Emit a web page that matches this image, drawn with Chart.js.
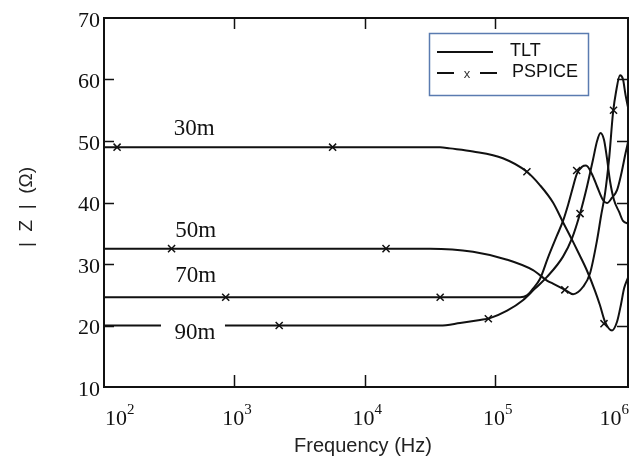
<!DOCTYPE html>
<html>
<head>
<meta charset="utf-8">
<script src="https://cdn.jsdelivr.net/npm/chart.js@4.4.1/dist/chart.umd.min.js"></script>
<style>
  html, body { margin: 0; padding: 0; background: #fff; }
  #wrap { width: 644px; height: 461px; }
</style>
</head>
<body>
<div id="wrap"><canvas id="zChart" width="644" height="461"></canvas></div>
<script>
// TLT curves (frequency in Hz, |Z| in ohm)
const freq30 = [100, 3.79e4, 4.52e4, 6.79e4, 1.15e5, 1.76e5, 2.22e5, 2.79e5, 3.33e5, 3.98e5, 4.5e5, 5.09e5, 5.87e5, 6.4e5, 7.0e5, 7.92e5, 8.65e5, 9.29e5, 9.79e5, 1.05e6];
const z30    = [49.0, 49.0, 48.8, 48.3, 47.2, 45.0, 42.8, 40.0, 36.8, 33.6, 31.3, 28.9, 25.6, 23.3, 20.6, 19.2, 20.6, 23.5, 26.0, 27.8];

const freq50 = [100, 3.18e4, 6.79e4, 1.24e5, 1.96e5, 2.51e5, 2.79e5, 3.45e5, 3.98e5, 4.75e5, 5.37e5, 6.08e5, 6.52e5, 7.0e5, 7.51e5, 8.06e5, 8.5e5, 9.12e5, 9.62e5, 1.005e6, 1.05e6];
const z50    = [32.5, 32.5, 32.0, 30.7, 29.0, 27.3, 26.8, 25.8, 25.1, 26.3, 28.5, 33.9, 37.8, 41.5, 47.0, 54.6, 58.0, 60.7, 60.0, 57.5, 55.5];

const freq70 = [100, 1.56e5, 1.76e5, 1.96e5, 2.22e5, 2.55e5, 2.99e5, 3.33e5, 3.64e5, 3.91e5, 4.26e5, 4.66e5, 5.0e5, 5.56e5, 6.08e5, 6.75e5, 7.24e5, 7.92e5, 8.65e5, 9.29e5, 1.005e6, 1.05e6];
const z70    = [24.6, 24.6, 24.9, 26.0, 27.6, 31.0, 34.6, 37.0, 39.6, 42.0, 44.7, 45.8, 46.0, 44.6, 42.6, 40.4, 39.9, 40.8, 42.0, 44.5, 48.0, 49.8];

const freq90 = [100, 3.79e4, 5.4e4, 7.69e4, 9.17e4, 1.24e5, 1.64e5, 2.03e5, 2.51e5, 3.33e5, 3.91e5, 4.5e5, 5.09e5, 5.66e5, 6.08e5, 6.46e5, 6.87e5, 7.24e5, 7.64e5, 8.2e5, 8.96e5, 9.62e5, 1.05e6];
const z90    = [20.0, 20.0, 20.4, 20.9, 21.2, 22.4, 24.1, 26.0, 27.9, 31.2, 34.2, 38.2, 42.6, 47.0, 50.0, 51.3, 50.2, 47.2, 43.5, 40.4, 38.5, 37.0, 36.6];

// PSPICE marker points
const pFreq30 = [126, 5.68e3, 1.76e5, 6.87e5];
const pZ30    = [49.0, 49.0, 45.0, 20.3];
const pFreq50 = [330, 1.46e4, 3.44e5, 8.13e5];
const pZ50    = [32.5, 32.5, 25.8, 55.0];
const pFreq70 = [859, 3.8e4, 4.24e5];
const pZ70    = [24.6, 24.6, 45.2];
const pFreq90 = [2.21e3, 8.9e4, 4.5e5];
const pZ90    = [20.0, 21.1, 38.2];

// curve names and where they sit
const curveNames = ['30m', '50m', '70m', '90m'];
const nameFreq   = [492, 506, 506, 499];
const nameZ      = [51.95, 35.4, 28.0, 18.85];

const xDecades = [1e2, 1e3, 1e4, 1e5, 1e6];
const yTicks   = [10, 20, 30, 40, 50, 60, 70];

function pts(fs, zs) {
  return fs.map((f, i) => ({ x: f, y: zs[i] }));
}

function tltLine(fs, zs) {
  return {
    data: pts(fs, zs),
    borderColor: '#111',
    borderWidth: 2,
    pointRadius: 0,
    fill: false,
    cubicInterpolationMode: 'monotone'
  };
}

function spiceMarks(fs, zs) {
  return {
    data: pts(fs, zs),
    showLine: false,
    pointStyle: 'crossRot',
    pointRadius: 5,
    pointBorderWidth: 1.5,
    pointBorderColor: '#111',
    borderColor: '#111'
  };
}

const decor = {
  id: 'decor',
  afterDatasetsDraw(chart) {
    const { ctx, chartArea: a, scales: { x, y } } = chart;
    ctx.save();

    // curve names (90m breaks its line)
    ctx.font = '23px "Liberation Serif", serif';
    ctx.textAlign = 'center';
    ctx.textBaseline = 'middle';
    curveNames.forEach((n, i) => {
      const px = x.getPixelForValue(nameFreq[i]);
      const py = y.getPixelForValue(nameZ[i]);
      ctx.fillStyle = '#fff';
      ctx.fillRect(px - 34, py - 11, 64, 22);
      ctx.fillStyle = '#111';
      ctx.fillText(n, px, py);
    });

    // frame
    ctx.strokeStyle = '#111';
    ctx.lineWidth = 2;
    ctx.strokeRect(a.left, a.top, a.right - a.left, a.bottom - a.top);

    // inward ticks
    ctx.lineWidth = 1.5;
    ctx.beginPath();
    xDecades.slice(1, -1).forEach(v => {
      const px = Math.round(x.getPixelForValue(v)) + 0.5;
      ctx.moveTo(px, a.bottom); ctx.lineTo(px, a.bottom - 12);
      ctx.moveTo(px, a.top); ctx.lineTo(px, a.top + 11);
    });
    yTicks.slice(1, -1).forEach(v => {
      const py = Math.round(y.getPixelForValue(v)) + 0.5;
      ctx.moveTo(a.left, py); ctx.lineTo(a.left + 10, py);
      ctx.moveTo(a.right, py); ctx.lineTo(a.right - 11, py);
    });
    ctx.stroke();

    // x tick labels 10^n
    ctx.fillStyle = '#111';
    ctx.textAlign = 'left';
    ctx.textBaseline = 'alphabetic';
    xDecades.forEach(v => {
      const p = Math.round(Math.log10(v));
      ctx.font = '22px "Liberation Serif", serif';
      const w1 = ctx.measureText('10').width;
      ctx.font = '15px "Liberation Serif", serif';
      const w2 = ctx.measureText(String(p)).width;
      let sx = x.getPixelForValue(v) - w1 / 2 - 1;
      if (sx < a.left + 1) sx = a.left + 1;
      if (sx + w1 + w2 > a.right + 1) sx = a.right + 1 - w1 - w2;
      ctx.font = '22px "Liberation Serif", serif';
      ctx.fillText('10', sx, 425);
      ctx.font = '15px "Liberation Serif", serif';
      ctx.fillText(String(p), sx + w1, 414);
    });

    // axis titles
    ctx.fillStyle = '#222';
    ctx.font = '20px "Liberation Sans", Arial, sans-serif';
    ctx.textAlign = 'center';
    ctx.textBaseline = 'middle';
    ctx.fillText('Frequency (Hz)', 363, 446);
    ctx.save();
    ctx.translate(27, 207);
    ctx.rotate(-Math.PI / 2);
    ctx.font = '19px "Liberation Sans", Arial, sans-serif';
    ctx.fillText('|  Z  |  (Ω)', 0, 0);
    ctx.restore();

    // legend box
    ctx.fillStyle = '#fff';
    ctx.fillRect(429, 33, 159, 62);
    ctx.strokeStyle = '#5a7bb0';
    ctx.lineWidth = 1.5;
    ctx.strokeRect(429.5, 33.5, 159, 62);
    ctx.strokeStyle = '#111';
    ctx.lineWidth = 2;
    ctx.beginPath();
    ctx.moveTo(437, 52); ctx.lineTo(493, 52);
    ctx.moveTo(437, 73); ctx.lineTo(454, 73);
    ctx.moveTo(480, 73); ctx.lineTo(497, 73);
    ctx.stroke();
    ctx.fillStyle = '#333';
    ctx.font = '13px "Liberation Sans", Arial, sans-serif';
    ctx.fillText('x', 467, 74);
    ctx.fillStyle = '#111';
    ctx.font = '18px "Liberation Sans", Arial, sans-serif';
    ctx.textAlign = 'left';
    ctx.fillText('TLT', 510, 51);
    ctx.fillText('PSPICE', 512, 72);

    ctx.restore();
  }
};

new Chart(document.getElementById('zChart'), {
  type: 'line',
  data: {
    datasets: [
      tltLine(freq30, z30),
      tltLine(freq50, z50),
      tltLine(freq70, z70),
      tltLine(freq90, z90),
      spiceMarks(pFreq30, pZ30),
      spiceMarks(pFreq50, pZ50),
      spiceMarks(pFreq70, pZ70),
      spiceMarks(pFreq90, pZ90)
    ]
  },
  options: {
    responsive: false,
    animation: false,
    devicePixelRatio: 1,
    layout: { padding: { left: 0, right: 16, top: 18, bottom: 0 } },
    plugins: {
      legend: { display: false },
      tooltip: { enabled: false }
    },
    scales: {
      x: {
        type: 'logarithmic',
        min: 100,
        max: 1.05e6,
        grid: { display: false },
        border: { display: false },
        ticks: { display: false },
        afterFit(s) { s.height = 74; }
      },
      y: {
        min: 10,
        max: 70,
        grid: { display: false, drawTicks: false },
        border: { display: false },
        ticks: {
          stepSize: 10,
          padding: 4,
          labelOffset: 3,
          color: '#111',
          font: { family: '"Liberation Serif", serif', size: 22 }
        },
        afterFit(s) { s.width = 104; }
      }
    }
  },
  plugins: [decor]
});
</script>
</body>
</html>
